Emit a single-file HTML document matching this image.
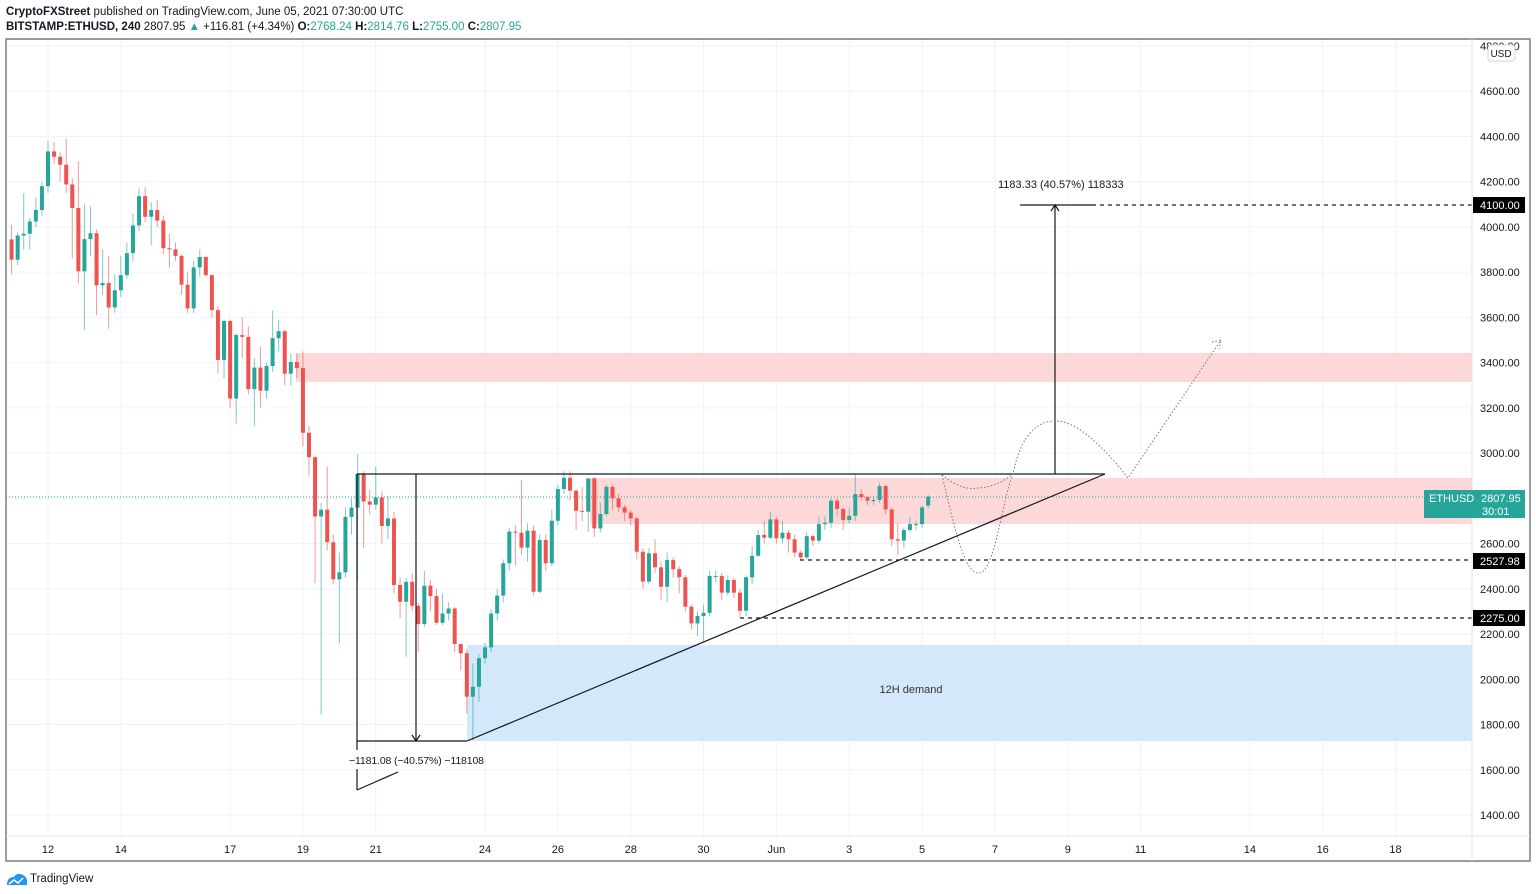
<!DOCTYPE html>
<html><head><meta charset="utf-8"><style>
body{margin:0;background:#fff;width:1536px;height:894px;overflow:hidden;font-family:"Liberation Sans",sans-serif}
svg{position:absolute;left:0;top:0}
</style></head><body>
<svg id="chart" width="1536" height="894" viewBox="0 0 1536 894" font-family="Liberation Sans, sans-serif">
<text x="6" y="15" font-size="11.5" fill="#131722"><tspan font-weight="bold">CryptoFXStreet</tspan> published on TradingView.com, June 05, 2021 07:30:00 UTC</text>
<text x="6" y="30" font-size="11.5" fill="#131722"><tspan font-weight="bold">BITSTAMP:ETHUSD, 240</tspan> 2807.95 <tspan fill="#26a69a">▲</tspan> +116.81 (+4.34%) <tspan font-weight="bold">O:</tspan><tspan fill="#26a69a">2768.24</tspan> <tspan font-weight="bold">H:</tspan><tspan fill="#26a69a">2814.76</tspan> <tspan font-weight="bold">L:</tspan><tspan fill="#26a69a">2755.00</tspan> <tspan font-weight="bold">C:</tspan><tspan fill="#26a69a">2807.95</tspan></text>
<g id="grid"></g>
<g id="zones">
<rect x="296" y="353" width="1176" height="29" fill="#fcd9d8"/>
<rect x="590" y="478" width="882" height="46" fill="#fcd9d8"/>
<rect x="467" y="645" width="1005" height="96" fill="#d3e8fb"/>
<text x="911" y="693" font-size="11" fill="#333" text-anchor="middle">12H demand</text>
</g>
<line x1="6" y1="497" x2="1472" y2="497" stroke="#26a69a" stroke-width="1" stroke-dasharray="1,2"/>
<g id="candles"></g>
<g stroke="#131722" fill="none" stroke-width="1.2">
<line x1="357" y1="474" x2="1105" y2="474"/>
<line x1="467" y1="741" x2="1105" y2="474"/>
<line x1="357" y1="474" x2="357" y2="750"/>
<line x1="357" y1="769" x2="357" y2="790"/>
<line x1="357" y1="741" x2="467" y2="741"/>
<line x1="357" y1="790" x2="398" y2="772"/>
<line x1="416" y1="474" x2="416" y2="741"/>
<path d="M412,735 L416,741 L420,735"/>
<line x1="1055" y1="474" x2="1055" y2="205"/>
<path d="M1051,211 L1055,205 L1059,211"/>
<line x1="1020" y1="205" x2="1092" y2="205"/>
<line x1="1092" y1="205" x2="1472" y2="205" stroke-dasharray="4,4"/>
<line x1="800" y1="560" x2="1472" y2="560" stroke-dasharray="4,4"/>
<line x1="740" y1="618" x2="1472" y2="618" stroke-dasharray="4,4"/>
<g stroke="#777" stroke-dasharray="1.5,2" stroke-width="1">
<path d="M942,475 C955,485 965,490 978,488 C995,487 1005,480 1013,474"/>
<path d="M942,475 C955,530 965,575 979,573 C995,572 1002,500 1013,474 C1022,430 1040,421 1056,421 C1080,421 1110,455 1128,478 L1221,340"/>
<path d="M1212,342 L1221,340 L1219,349"/>
</g>
</g>
<text x="349" y="764" font-size="10.5" fill="#131722" textLength="135">−1181.08 (−40.57%) −118108</text>
<text x="998" y="188" font-size="11" fill="#131722">1183.33 (40.57%) 118333</text>
<g id="axes"></g>
<rect x="6" y="39" width="1524" height="822" fill="none" stroke="#787b86" stroke-width="1.5"/>
<line x1="1472" y1="39" x2="1472" y2="861" stroke="#e0e3eb"/>
<line x1="6" y1="836" x2="1530" y2="836" stroke="#e0e3eb"/>
<rect x="1488" y="45" width="27" height="16" rx="3" fill="#fff" stroke="#d1d4dc"/>
<text x="1501" y="57" font-size="10" fill="#131722" text-anchor="middle">USD</text>
<g id="labels"></g>
<g>
<path d="M7,885 q0,-8 7,-8 q3,-5 9,-2 q4,2 4,6 l0,4z" fill="#2196f3"/>
<path d="M9,884 l5,-4 l4,3 l5,-5" stroke="#fff" stroke-width="1.5" fill="none"/>
<text x="30" y="882" font-size="11.5" fill="#131722">TradingView</text>
</g>
</svg>
<script>
const opens=[3945,3855,3962,3970,4024,4075,4180,4334,4310,4275,4188,4084,3804,3946,3972,3742,3752,3644,3720,3787,3884,4007,4136,4045,4075,4028,3906,3901,3872,3745,3640,3821,3867,3787,3632,3412,3584,3241,3522,3514,3283,3378,3276,3385,3508,3539,3351,3403,3376,3090,2982,2720,2750,2606,2442,2473,2718,2759,2908,2786,2772,2804,2678,2711,2417,2343,2431,2325,2244,2414,2368,2250,2291,2313,2156,2115,1923,1967,2093,2141,2291,2370,2513,2653,2648,2582,2657,2387,2616,2513,2701,2841,2891,2834,2745,2741,2888,2667,2731,2851,2800,2760,2737,2711,2564,2432,2557,2495,2409,2527,2487,2451,2321,2247,2280,2294,2457,2457,2383,2439,2383,2303,2451,2546,2638,2626,2707,2623,2648,2619,2560,2539,2633,2613,2686,2692,2790,2753,2704,2723,2819,2805,2790,2793,2854,2751,2619,2613,2660,2686,2686,2768];
const closes=[3855,3962,3970,4024,4075,4180,4334,4310,4275,4188,4084,3804,3946,3972,3742,3752,3644,3720,3787,3884,4007,4136,4045,4075,4028,3906,3901,3872,3745,3640,3821,3867,3787,3632,3412,3584,3241,3522,3514,3283,3378,3276,3385,3508,3539,3351,3403,3376,3090,2982,2720,2750,2606,2442,2473,2718,2759,2908,2786,2772,2804,2678,2711,2417,2343,2431,2325,2244,2414,2368,2250,2291,2313,2156,2115,1923,1967,2093,2141,2291,2370,2513,2653,2648,2582,2657,2387,2616,2513,2701,2841,2891,2834,2745,2741,2888,2667,2731,2851,2800,2760,2737,2711,2564,2432,2557,2495,2409,2527,2487,2451,2321,2247,2280,2294,2457,2457,2383,2439,2383,2303,2451,2546,2638,2626,2707,2623,2648,2619,2560,2539,2633,2613,2686,2692,2790,2753,2704,2723,2819,2805,2790,2793,2854,2751,2619,2613,2660,2686,2686,2760,2808];
const highs=[4010,3975,4150,4040,4130,4200,4380,4375,4330,4390,4215,4290,4100,4090,3990,3900,3870,3790,3870,3930,4060,4170,4175,4110,4120,4050,3970,3930,3880,3800,3850,3900,3870,3790,3650,3590,3590,3530,3600,3560,3420,3470,3400,3630,3590,3545,3440,3440,3450,3120,2990,2780,2940,2640,2560,2760,2800,2996,2920,2840,2941,2830,2810,2740,2450,2450,2470,2340,2480,2440,2400,2380,2340,2320,2150,2130,2070,2110,2160,2310,2400,2530,2670,2680,2880,2690,2680,2640,2640,2750,2860,2920,2920,2840,2850,2890,2895,2780,2860,2860,2820,2770,2750,2720,2580,2580,2620,2520,2560,2540,2500,2460,2330,2300,2330,2480,2480,2470,2460,2450,2400,2460,2590,2660,2700,2740,2720,2700,2660,2640,2570,2650,2640,2720,2720,2800,2800,2760,2760,2910,2840,2810,2810,2870,2860,2760,2690,2670,2720,2700,2770,2815];
const lows=[3790,3830,3900,3900,4000,4050,4150,4280,4200,4150,3860,3750,3545,3870,3610,3700,3550,3620,3690,3770,3850,3980,4020,3920,4000,3880,3820,3850,3700,3620,3620,3780,3780,3600,3350,3330,3200,3130,3420,3260,3120,3200,3240,3360,3450,3300,3300,3330,3030,2900,2425,1845,2570,2420,2158,2450,2640,2430,2580,2730,2750,2600,2620,2380,2270,2100,2300,2120,2230,2300,2240,2240,2260,2120,2040,1850,1732,1900,2070,2120,2260,2340,2480,2500,2550,2520,2370,2380,2480,2500,2680,2820,2790,2660,2700,2650,2630,2650,2720,2750,2740,2700,2680,2530,2400,2420,2470,2350,2340,2450,2380,2300,2220,2190,2170,2280,2430,2350,2370,2360,2275,2280,2420,2540,2600,2620,2600,2600,2560,2540,2527,2530,2590,2600,2660,2670,2720,2660,2690,2700,2790,2770,2770,2780,2730,2590,2550,2580,2650,2660,2670,2755];
const priceTicks=[1400,1600,1800,2000,2200,2400,2600,2800,3000,3200,3400,3600,3800,4000,4200,4400,4600,4800];
const dayTicks=[0,2,5,7,9,12,14,16,18,20,22,24,26,28,30,33,35,37];
const dayTickLabels=["12","14","17","19","21","24","26","28","30","Jun","3","5","7","9","11","14","16","18"];
const firstCandleDay=-1;
const NS="http://www.w3.org/2000/svg";
const yOf=p=>815-(p-1400)*0.22618;
const xOfDay=d=>48+d*36.42;
function mk(tag,attrs,parent){const e=document.createElementNS(NS,tag);for(const k in attrs)e.setAttribute(k,attrs[k]);parent.appendChild(e);return e;}
const grid=document.getElementById('grid'),cg=document.getElementById('candles'),ax=document.getElementById('axes'),lb=document.getElementById('labels');
priceTicks.forEach(p=>{
  const l=mk('line',{x1:6,x2:1472,y1:yOf(p),y2:yOf(p),stroke:'#f0f3fa'},grid);
  
  
  const t=mk('text',{x:1480,y:yOf(p)+4,'font-size':11,fill:'#131722'},ax);
  t.textContent=p.toFixed(2);
  
  
});
dayTicks.forEach((d,i)=>{
  const x=xOfDay(d);
  const l=mk('line',{x1:x,x2:x,y1:39,y2:836,stroke:'#f0f3fa'},grid);
  
  
  const t=mk('text',{x:x,y:853,'font-size':11,fill:'#131722','text-anchor':'middle'},ax);
  t.textContent=dayTickLabels[i];
  
  
});
closes.forEach((c,i)=>{
  const o=opens[i],x=xOfDay(firstCandleDay+i/6);
  const up=c>=o,col=up?'#26a69a':'#ef5350';
  const g=mk('g',{},cg);
  
  
  mk('line',{x1:x,x2:x,y1:yOf(highs[i]),y2:yOf(lows[i]),stroke:col,'stroke-opacity':0.6,'stroke-width':1},g);
  const top=yOf(Math.max(o,c)),h=Math.max(1,yOf(Math.min(o,c))-top);
  mk('rect',{x:x-2,y:top,width:4,height:h,fill:col},g);
});
function tag(y,txt,bg,w,h){
  const r=mk('rect',{x:1473,y:y-8,width:w,height:h,fill:bg},lb);
  
  
  const t=mk('text',{x:1480,y:y+4,'font-size':11,fill:'#fff'},lb);
  t.textContent=txt;
  
  
}
tag(205,'4100.00','#000',52,16);
tag(561,'2527.98','#000',52,16);
tag(618,'2275.00','#000',52,16);
const eb=mk('rect',{x:1424,y:490,width:101,height:28,fill:'#26a69a'},lb);


const et=mk('text',{x:1429,y:502,'font-size':11,fill:'#fff'},lb);
et.textContent='ETHUSD';


const ev=mk('text',{x:1481,y:502,'font-size':11,fill:'#fff'},lb);
ev.textContent='2807.95';


const tt=mk('text',{x:1482,y:515,'font-size':11,fill:'#fff'},lb);
tt.textContent='30:01';


</script>
</body></html>
